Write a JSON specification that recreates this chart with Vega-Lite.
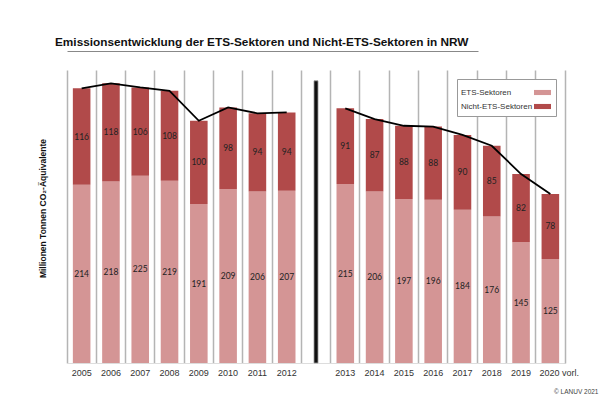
{
  "$schema": "https://vega.github.io/schema/vega-lite/v6.json",
  "width": 498,
  "height": 293,
  "autosize": {"type": "none"},
  "padding": {"left": 67, "top": 70, "right": 40, "bottom": 35},
  "background": "white",
  "title": {
    "text": "Emissionsentwicklung der ETS-Sektoren und Nicht-ETS-Sektoren in NRW",
    "anchor": "start",
    "frame": "group",
    "font": "Liberation Sans",
    "fontSize": 11.8,
    "fontWeight": "bold",
    "color": "#111111",
    "dx": -12,
    "offset": 2
  },
  "config": {"view": {"stroke": null}},
  "datasets": {
    "emissionen": [
      {"Jahr": "2005", "Periode": 1, "Sektor": "ETS-Sektoren", "Wert": 214},
      {"Jahr": "2005", "Periode": 1, "Sektor": "Nicht-ETS-Sektoren", "Wert": 116},
      {"Jahr": "2006", "Periode": 1, "Sektor": "ETS-Sektoren", "Wert": 218},
      {"Jahr": "2006", "Periode": 1, "Sektor": "Nicht-ETS-Sektoren", "Wert": 118},
      {"Jahr": "2007", "Periode": 1, "Sektor": "ETS-Sektoren", "Wert": 225},
      {"Jahr": "2007", "Periode": 1, "Sektor": "Nicht-ETS-Sektoren", "Wert": 106},
      {"Jahr": "2008", "Periode": 1, "Sektor": "ETS-Sektoren", "Wert": 219},
      {"Jahr": "2008", "Periode": 1, "Sektor": "Nicht-ETS-Sektoren", "Wert": 108},
      {"Jahr": "2009", "Periode": 1, "Sektor": "ETS-Sektoren", "Wert": 191},
      {"Jahr": "2009", "Periode": 1, "Sektor": "Nicht-ETS-Sektoren", "Wert": 100},
      {"Jahr": "2010", "Periode": 1, "Sektor": "ETS-Sektoren", "Wert": 209},
      {"Jahr": "2010", "Periode": 1, "Sektor": "Nicht-ETS-Sektoren", "Wert": 98},
      {"Jahr": "2011", "Periode": 1, "Sektor": "ETS-Sektoren", "Wert": 206},
      {"Jahr": "2011", "Periode": 1, "Sektor": "Nicht-ETS-Sektoren", "Wert": 94},
      {"Jahr": "2012", "Periode": 1, "Sektor": "ETS-Sektoren", "Wert": 207},
      {"Jahr": "2012", "Periode": 1, "Sektor": "Nicht-ETS-Sektoren", "Wert": 94},
      {"Jahr": "2013", "Periode": 2, "Sektor": "ETS-Sektoren", "Wert": 215},
      {"Jahr": "2013", "Periode": 2, "Sektor": "Nicht-ETS-Sektoren", "Wert": 91},
      {"Jahr": "2014", "Periode": 2, "Sektor": "ETS-Sektoren", "Wert": 206},
      {"Jahr": "2014", "Periode": 2, "Sektor": "Nicht-ETS-Sektoren", "Wert": 87},
      {"Jahr": "2015", "Periode": 2, "Sektor": "ETS-Sektoren", "Wert": 197},
      {"Jahr": "2015", "Periode": 2, "Sektor": "Nicht-ETS-Sektoren", "Wert": 88},
      {"Jahr": "2016", "Periode": 2, "Sektor": "ETS-Sektoren", "Wert": 196},
      {"Jahr": "2016", "Periode": 2, "Sektor": "Nicht-ETS-Sektoren", "Wert": 88},
      {"Jahr": "2017", "Periode": 2, "Sektor": "ETS-Sektoren", "Wert": 184},
      {"Jahr": "2017", "Periode": 2, "Sektor": "Nicht-ETS-Sektoren", "Wert": 90},
      {"Jahr": "2018", "Periode": 2, "Sektor": "ETS-Sektoren", "Wert": 176},
      {"Jahr": "2018", "Periode": 2, "Sektor": "Nicht-ETS-Sektoren", "Wert": 85},
      {"Jahr": "2019", "Periode": 2, "Sektor": "ETS-Sektoren", "Wert": 145},
      {"Jahr": "2019", "Periode": 2, "Sektor": "Nicht-ETS-Sektoren", "Wert": 82},
      {"Jahr": "2020 vorl.", "Periode": 2, "Sektor": "ETS-Sektoren", "Wert": 125},
      {"Jahr": "2020 vorl.", "Periode": 2, "Sektor": "Nicht-ETS-Sektoren", "Wert": 78}
    ],
    "trenner": [{"Jahr": "|", "Wert": 339}]
  },
  "resolve": {"axis": {"x": "independent", "y": "independent"}},
  "layer": [
    {
      "data": {"name": "emissionen"},
      "mark": {"type": "bar", "width": {"band": 0.6}},
      "encoding": {
        "x": {
          "field": "Jahr",
          "type": "nominal",
          "sort": null,
          "scale": {
            "domain": ["2005", "2006", "2007", "2008", "2009", "2010", "2011", "2012", "|", "2013", "2014", "2015", "2016", "2017", "2018", "2019", "2020 vorl."],
            "paddingInner": 0,
            "paddingOuter": 0
          },
          "axis": {
            "title": "© LANUV 2021",
            "labelExpr": "datum.value == '|' ? '' : datum.value",
            "grid": true,
            "gridColor": "#b4b4b4",
            "gridWidth": 1.5,
            "bandPosition": 0,
            "ticks": false,
            "domainColor": "#dddddd",
            "labelAngle": 0,
            "labelFont": "Liberation Sans",
            "labelFontSize": 9,
            "labelColor": "#333333",
            "labelPadding": 5,
            "labelOffset": {"condition": {"test": "datum.value == '2020 vorl.'", "value": 9}, "value": 0},
            "titleFont": "Liberation Sans",
            "titleFontSize": 6.5,
            "titleFontWeight": "normal",
            "titleColor": "#444444",
            "titleX": 531,
            "titleY": 28,
            "titleAlign": "right",
            "titleBaseline": "middle"
          }
        },
        "y": {
          "field": "Wert",
          "type": "quantitative",
          "stack": "zero",
          "scale": {"domain": [0, 352], "nice": false},
          "axis": {
            "title": "Millionen Tonnen CO₂-Äquivalente",
            "labels": false,
            "ticks": false,
            "grid": false,
            "domain": false,
            "titleFont": "Liberation Sans",
            "titleFontSize": 8.5,
            "titleFontWeight": "bold",
            "titleColor": "#111111",
            "titleX": -25,
            "titleY": 138,
            "titleAngle": -90,
            "titleAlign": "center",
            "titleBaseline": "middle"
          }
        },
        "color": {
          "field": "Sektor",
          "type": "nominal",
          "scale": {"domain": ["ETS-Sektoren", "Nicht-ETS-Sektoren"], "range": ["#d49595", "#b14a4a"]},
          "legend": {
            "title": null,
            "orient": "top-right",
            "offset": 9,
            "fillColor": "white",
            "strokeColor": "#999999",
            "padding": 5,
            "labelFont": "Liberation Sans",
            "labelFontSize": 8,
            "labelColor": "#333333",
            "symbolType": "M-1,-0.3H1V0.3H-1Z",
            "symbolSize": 289,
            "symbolStrokeWidth": 0,
            "labelOffset": -90,
            "symbolOffset": 72,
            "rowPadding": 1
          }
        },
        "order": {"field": "Sektor", "sort": "ascending"}
      }
    },
    {
      "data": {"name": "trenner"},
      "mark": {"type": "bar", "width": 4, "color": "#111111", "stroke": "#999999", "strokeWidth": 0.8},
      "encoding": {
        "x": {
          "field": "Jahr",
          "type": "nominal",
          "sort": null,
          "axis": {"orient": "top", "offset": 19, "domain": true, "domainColor": "#888888", "domainWidth": 1, "domainDash": [411, 90], "labels": false, "ticks": false, "grid": false, "title": null}
        },
        "y": {
          "field": "Wert",
          "type": "quantitative",
          "axis": {"orient": "right", "domain": true, "domainColor": "#b4b4b4", "domainWidth": 1.5, "labels": false, "ticks": false, "grid": false, "title": null}
        }
      }
    },
    {
      "data": {"name": "emissionen"},
      "mark": {"type": "text", "font": "Lato", "fontSize": 8.5, "color": "#222222"},
      "encoding": {
        "x": {"field": "Jahr", "type": "nominal", "sort": null, "axis": null},
        "y": {"field": "Wert", "type": "quantitative", "stack": "zero", "bandPosition": 0.5, "axis": null},
        "order": {"field": "Sektor", "sort": "ascending"},
        "detail": {"field": "Sektor"},
        "text": {"field": "Wert", "type": "quantitative"}
      }
    },
    {
      "data": {"name": "emissionen"},
      "transform": [{"aggregate": [{"op": "sum", "field": "Wert", "as": "Summe"}], "groupby": ["Jahr", "Periode"]}],
      "mark": {"type": "line", "color": "black", "strokeWidth": 1.8},
      "encoding": {
        "x": {"field": "Jahr", "type": "nominal", "sort": null, "axis": null},
        "y": {"field": "Summe", "type": "quantitative", "axis": null},
        "detail": {"field": "Periode"}
      }
    }
  ]
}
